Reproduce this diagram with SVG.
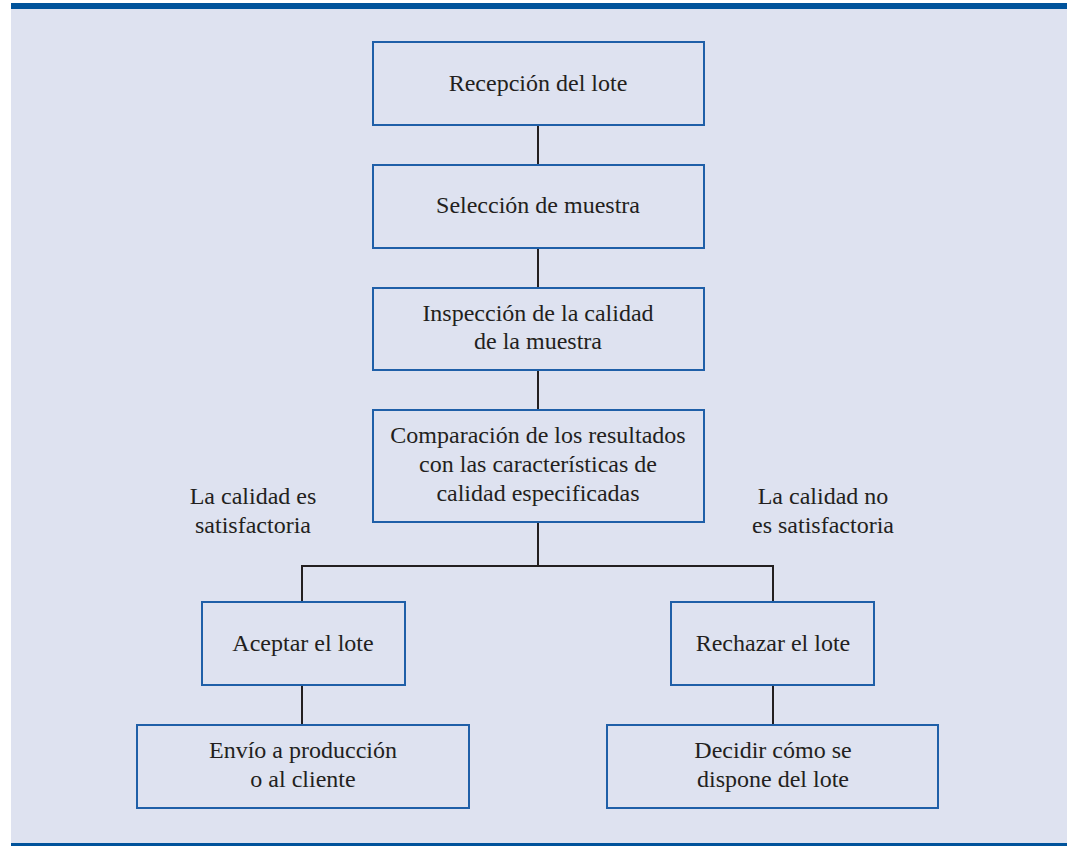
<svg xmlns="http://www.w3.org/2000/svg" width="1067" height="846" viewBox="0 0 1067 846">
<style>
.box{fill:#dee2f0;stroke:#1f5fa8;stroke-width:2}
.ln{fill:none;stroke:#231f20;stroke-width:2}
text{font-family:"Liberation Serif","Times New Roman",serif;font-size:24px;fill:#231f20;text-anchor:middle}
</style>
<rect x="0" y="0" width="1067" height="846" fill="#ffffff"/>
<rect x="11" y="3" width="1056" height="843" fill="#dee2f0"/>
<rect x="11" y="3" width="1056" height="6" fill="#00539b"/>
<rect x="11" y="843" width="1056" height="3" fill="#00539b"/>
<g id="connectors">
<line class="ln" x1="538" y1="125" x2="538" y2="165"/>
<line class="ln" x1="538" y1="248" x2="538" y2="288"/>
<line class="ln" x1="538" y1="370" x2="538" y2="410"/>
<line class="ln" x1="538" y1="522" x2="538" y2="566"/>
<polyline class="ln" points="302,602 302,566 773,566 773,602"/>
<line class="ln" x1="302" y1="685" x2="302" y2="725"/>
<line class="ln" x1="773" y1="685" x2="773" y2="725"/>
</g>
<g id="n1"><rect class="box" x="373" y="42" width="331" height="83"/><text x="538" y="91">Recepción del lote</text></g>
<g id="n2"><rect class="box" x="373" y="165" width="331" height="83"/><text x="538" y="213">Selección de muestra</text></g>
<g id="n3"><rect class="box" x="373" y="288" width="331" height="82"/><text x="538" y="321">Inspección de la calidad</text><text x="538" y="349">de la muestra</text></g>
<g id="n4"><rect class="box" x="373" y="410" width="331" height="112"/><text x="538" y="443">Comparación de los resultados</text><text x="538" y="472">con las características de</text><text x="538" y="501">calidad especificadas</text></g>
<g id="lblL"><text x="253" y="504">La calidad es</text><text x="253" y="533">satisfactoria</text></g>
<g id="lblR"><text x="823" y="504">La calidad no</text><text x="823" y="533">es satisfactoria</text></g>
<g id="n5"><rect class="box" x="202" y="602" width="203" height="83"/><text x="303" y="651">Aceptar el lote</text></g>
<g id="n6"><rect class="box" x="671" y="602" width="203" height="83"/><text x="773" y="651">Rechazar el lote</text></g>
<g id="n7"><rect class="box" x="137" y="725" width="332" height="83"/><text x="303" y="758">Envío a producción</text><text x="303" y="787">o al cliente</text></g>
<g id="n8"><rect class="box" x="607" y="725" width="331" height="83"/><text x="773" y="758">Decidir cómo se</text><text x="773" y="787">dispone del lote</text></g>
</svg>
